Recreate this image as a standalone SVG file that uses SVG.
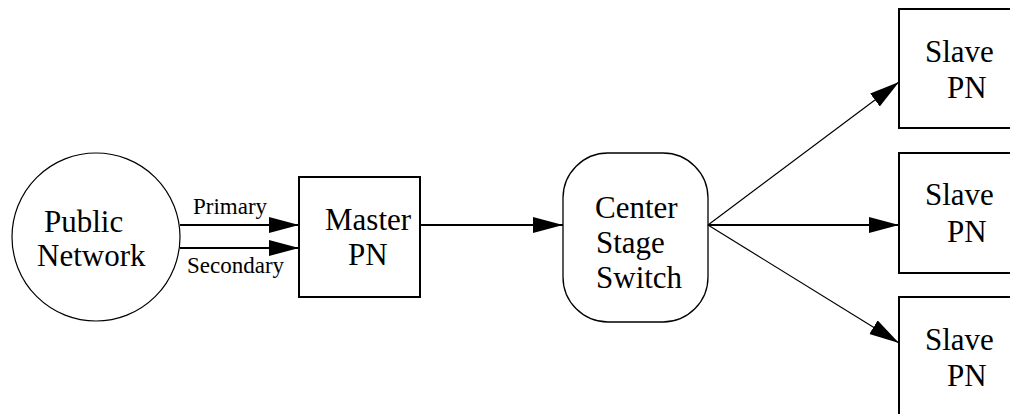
<svg xmlns="http://www.w3.org/2000/svg" width="1010" height="414" viewBox="0 0 1010 414">
<style>
text{fill:#000}
.t{font-size:31px}
.s{font-size:23px}
.box{fill:#fff;stroke:#000;stroke-width:2}
.thin{fill:none;stroke:#000;stroke-width:1.2}
.thick{fill:none;stroke:#000;stroke-width:2}
</style>
<defs>
<marker id="ah" markerUnits="userSpaceOnUse" markerWidth="32" markerHeight="18" refX="30" refY="8" orient="auto" viewBox="0 0 32 18">
<path d="M0,0 L30,8 L0,16 z" fill="#000"/>
</marker>
</defs>
<g font-family="Liberation Serif, Times New Roman, serif">
<g id="public-network">
<circle cx="96" cy="237" r="84" fill="#fff" stroke="#000" stroke-width="1.2"/>
<text class="t" x="44" y="232">Public</text>
<text class="t" x="37" y="266">Network</text>
</g>
<g id="master-pn">
<rect class="box" x="299" y="177" width="121" height="120"/>
<text class="t" x="325" y="230">Master</text>
<text class="t" x="348" y="265">PN</text>
</g>
<g id="center-stage-switch">
<rect x="563" y="153" width="145" height="169" rx="45" ry="45" fill="#fff" stroke="#000" stroke-width="1.3"/>
<text class="t" x="595" y="218">Center</text>
<text class="t" x="596" y="253">Stage</text>
<text class="t" x="596" y="288">Switch</text>
</g>
<g id="slave-pn-1">
<rect class="box" x="899" y="9" width="130" height="119"/>
<text class="t" x="925" y="62">Slave</text>
<text class="t" x="947" y="98">PN</text>
</g>
<g id="slave-pn-2">
<rect class="box" x="899" y="153" width="130" height="120"/>
<text class="t" x="925" y="205">Slave</text>
<text class="t" x="947" y="242">PN</text>
</g>
<g id="slave-pn-3">
<rect class="box" x="899" y="297" width="130" height="130"/>
<text class="t" x="925" y="350">Slave</text>
<text class="t" x="947" y="386">PN</text>
</g>
<g id="connectors">
<line class="thick" x1="180" y1="225" x2="299" y2="225" marker-end="url(#ah)"/>
<line class="thick" x1="180" y1="248" x2="299" y2="248" marker-end="url(#ah)"/>
<text class="s" x="193" y="214">Primary</text>
<text class="s" x="187" y="273">Secondary</text>
<line class="thick" x1="420" y1="225" x2="563" y2="225" marker-end="url(#ah)"/>
<line class="thin" x1="708" y1="225" x2="899" y2="82" marker-end="url(#ah)"/>
<line class="thick" x1="708" y1="225" x2="899" y2="225" marker-end="url(#ah)"/>
<line class="thin" x1="708" y1="225" x2="899" y2="343" marker-end="url(#ah)"/>
</g>
</g>
</svg>
